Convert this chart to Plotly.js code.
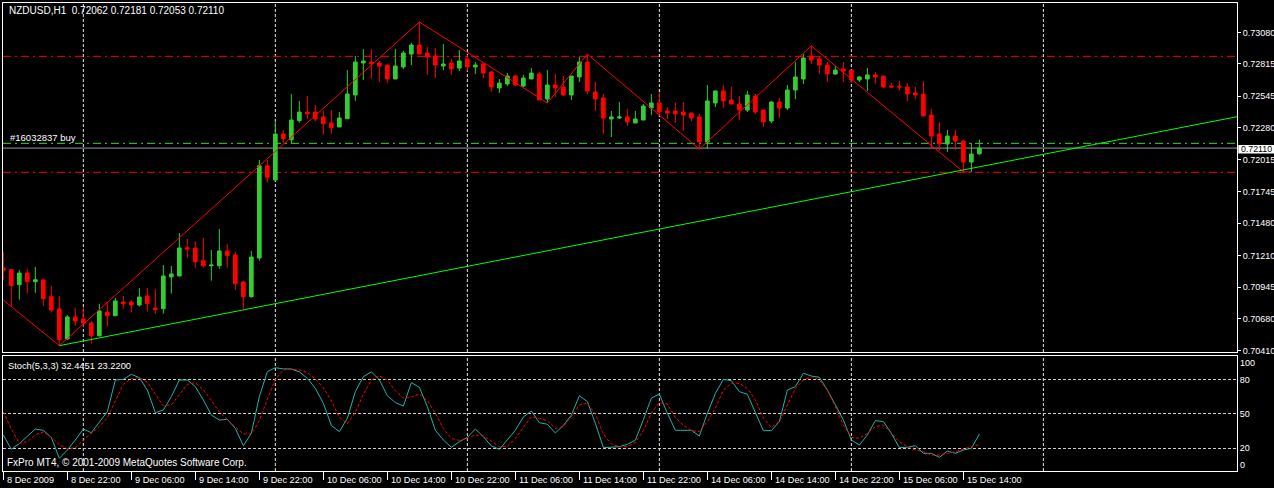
<!DOCTYPE html>
<html>
<head>
<meta charset="utf-8">
<script src="https://cdn.plot.ly/plotly-3.0.1.min.js"></script>
<style>
html,body{margin:0;padding:0;background:#000;}
#chart{width:1274px;height:488px;}
</style>
</head>
<body>
<div id="chart"></div>
<script>
// ---------- DATA (NZDUSD H1, bars from 8 Dec 14:00 to 15 Dec 16:00) ----------
// bar position: 0 = 9 Dec 2009 00:00 (weekend hours skipped, as in MT4)
const firstBar = -10;

const open = [
0.71105,0.71091,0.70965,0.71063,0.70990,0.71005,0.70865,0.70762,0.70510,0.70695,
0.70678,0.70644,0.70538,0.70736,0.70705,0.70820,0.70820,0.70795,0.70871,0.70770,
0.70764,0.71030,0.71038,0.71275,0.71273,0.71166,0.71124,0.71124,0.71248,0.71214,
0.70988,0.70865,0.71189,0.71962,0.71843,0.72228,0.72180,0.72340,0.72412,0.72412,
0.72371,0.72320,0.72287,0.72356,0.72555,0.72823,0.72831,0.72823,0.72806,0.72689,
0.72790,0.72898,0.72974,0.72907,0.72882,0.72798,0.72823,0.72781,0.72857,0.72790,
0.72815,0.72748,0.72614,0.72647,0.72714,0.72630,0.72689,0.72731,0.72521,0.72639,
0.72622,0.72555,0.72706,0.72831,0.72580,0.72530,0.72354,0.72362,0.72371,0.72320,
0.72345,0.72446,0.72488,0.72421,0.72421,0.72412,0.72404,0.72371,0.72161,0.72488,
0.72589,0.72513,0.72479,0.72429,0.72546,0.72429,0.72337,0.72496,0.72446,0.72597,
0.72689,0.72882,0.72857,0.72806,0.72731,0.72773,0.72764,0.72681,0.72689,0.72723,
0.72714,0.72630,0.72630,0.72622,0.72572,0.72563,0.72387,0.72228,0.72144,0.72211,
0.72169,0.71993,0.72062];

const high = [
0.71242,0.71097,0.71088,0.71097,0.71114,0.71013,0.70957,0.70871,0.70711,0.70770,
0.70778,0.70661,0.70804,0.70820,0.70854,0.70871,0.70837,0.70938,0.70938,0.70929,
0.71130,0.71122,0.71398,0.71348,0.71326,0.71357,0.71256,0.71432,0.71306,0.71239,
0.70996,0.71248,0.72010,0.72010,0.72337,0.72262,0.72563,0.72505,0.72547,0.72471,
0.72421,0.72429,0.72412,0.72764,0.72882,0.72940,0.72940,0.72840,0.72806,0.72940,
0.72924,0.72991,0.73167,0.72957,0.72949,0.72982,0.72857,0.72932,0.72890,0.72831,
0.72831,0.72756,0.72689,0.72739,0.72723,0.72723,0.72781,0.72748,0.72764,0.72731,
0.72714,0.72714,0.72873,0.72898,0.72664,0.72563,0.72421,0.72496,0.72438,0.72421,
0.72479,0.72563,0.72580,0.72454,0.72488,0.72496,0.72404,0.72396,0.72639,0.72589,
0.72639,0.72622,0.72546,0.72589,0.72563,0.72429,0.72505,0.72530,0.72639,0.72831,
0.72898,0.72966,0.72882,0.72831,0.72798,0.72831,0.72764,0.72714,0.72781,0.72748,
0.72714,0.72655,0.72672,0.72655,0.72622,0.72672,0.72438,0.72329,0.72262,0.72262,
0.72178,0.72153,0.72181];

const low = [
0.71005,0.70781,0.70840,0.70893,0.70898,0.70789,0.70731,0.70454,0.70502,0.70622,
0.70613,0.70471,0.70529,0.70613,0.70705,0.70764,0.70731,0.70781,0.70739,0.70722,
0.70722,0.70890,0.71038,0.71189,0.71108,0.71108,0.70999,0.71099,0.71108,0.70923,
0.70762,0.70856,0.71166,0.71820,0.71834,0.72150,0.72150,0.72323,0.72356,0.72337,
0.72223,0.72231,0.72287,0.72356,0.72507,0.72681,0.72689,0.72664,0.72655,0.72689,
0.72773,0.72806,0.72898,0.72723,0.72697,0.72764,0.72723,0.72756,0.72756,0.72731,
0.72697,0.72580,0.72572,0.72630,0.72630,0.72622,0.72689,0.72513,0.72488,0.72538,
0.72546,0.72513,0.72664,0.72563,0.72421,0.72228,0.72203,0.72354,0.72295,0.72320,
0.72345,0.72387,0.72387,0.72354,0.72320,0.72253,0.72337,0.72102,0.72102,0.72454,
0.72446,0.72479,0.72345,0.72412,0.72396,0.72287,0.72320,0.72362,0.72429,0.72521,
0.72647,0.72815,0.72731,0.72664,0.72723,0.72664,0.72655,0.72664,0.72589,0.72647,
0.72614,0.72614,0.72589,0.72505,0.72521,0.72379,0.72102,0.72086,0.72077,0.72094,
0.71910,0.71910,0.72053];

const close = [
0.71083,0.70957,0.71063,0.70990,0.71007,0.70848,0.70753,0.70504,0.70695,0.70661,
0.70644,0.70538,0.70745,0.70705,0.70829,0.70806,0.70795,0.70862,0.70806,0.70756,
0.71038,0.71055,0.71273,0.71264,0.71158,0.71124,0.71130,0.71248,0.71208,0.70974,
0.70865,0.71197,0.71962,0.71865,0.72228,0.72189,0.72345,0.72412,0.72398,0.72354,
0.72314,0.72281,0.72362,0.72563,0.72831,0.72840,0.72817,0.72798,0.72689,0.72798,
0.72907,0.72974,0.72898,0.72873,0.72806,0.72815,0.72773,0.72840,0.72790,0.72806,
0.72739,0.72622,0.72655,0.72714,0.72639,0.72697,0.72739,0.72513,0.72639,0.72614,
0.72555,0.72714,0.72831,0.72589,0.72521,0.72362,0.72371,0.72371,0.72329,0.72354,
0.72463,0.72488,0.72412,0.72404,0.72396,0.72387,0.72362,0.72161,0.72505,0.72589,
0.72505,0.72479,0.72429,0.72555,0.72412,0.72329,0.72496,0.72446,0.72597,0.72706,
0.72865,0.72848,0.72806,0.72731,0.72764,0.72756,0.72681,0.72706,0.72723,0.72706,
0.72622,0.72622,0.72622,0.72563,0.72555,0.72379,0.72211,0.72144,0.72211,0.72169,
0.71993,0.72060,0.72110];

// Stochastic(5,3,3)
const stochMain = [
31.6,19,24,30,36.8,35.7,29.5,11.1,18.4,27.2,
36.8,33.6,43.3,52,79.8,80.4,84.8,81.9,71,51.2,
53.5,65.2,79.8,79.8,74,62.3,49.1,44.7,45.3,37.4,
22.2,33,65.2,87.1,90.6,89.5,89.5,87,81.3,72.5,
59.4,40,34.5,46.2,69.6,82.7,87,80,66,60,
57,77.5,73.4,56.4,35.7,27.2,20.8,25.7,29.5,36.8,
30.1,22,19,27.2,35.7,47.4,52.6,42.4,41,33.3,
40,49,66,60.8,41.8,20.5,20.8,21.3,23.4,27,
45,64,67.5,50.6,35.7,35.7,35.7,30.7,50.6,68.1,
80.4,79.2,69.6,67.3,50.6,35.4,35.4,43.3,71,74,
85.7,83.3,82.2,71,58,44.7,27.2,22.8,31.6,44.2,
43.3,33,20.5,20.8,22.2,15.5,15.5,12,17.5,15.5,
18.4,19.9,32.4451];

const stochSignal = [
52,37,24.3,25.8,31.8,34.2,29.8,23,19.6,20.4,
27,32.7,39,46.8,61.7,76,81,81.9,77.9,67.5,
57,58,66.5,76,77.4,71.3,62,51.8,45,38.8,
32.5,32.7,44,63,80.5,88.5,89.6,88.6,86.4,80.7,
73,61.5,47.3,41.5,51.3,67.4,79.8,83.5,79.6,70.3,
64,64.8,67.5,61.9,50.6,37.3,28.6,26.8,28.7,31.6,
30.8,26.1,21.3,21.8,28.2,38.4,47.5,46.1,44.1,37.4,
38.9,47.6,58,59.4,49.9,32.4,23.6,21.3,21.4,25,
35.3,50.8,59.9,58.8,46.9,40.2,35.4,34.5,43.3,55,
71,76.9,76.9,72.5,62.3,46.2,38.3,43.3,58,72.5,
79.8,82.7,79.8,71,56.4,40.4,29.5,28.7,33,38.9,
40.4,33,25.7,21.3,18.4,16.9,14,14,15.5,16.9,
19.3,21.3,23.22];

// ZigZag pivots (bar position, price)
const zigzagBar   = [-10, -3, 42, 58, 63, 77, 91, 110, 111];
const zigzagPrice = [0.70837, 0.70454, 0.73167, 0.72488, 0.72898, 0.72102, 0.72966, 0.71910, 0.71910];

// trend line (ray to the right edge)
const trendBar   = [-3, 144.2];
const trendPrice = [0.70454, 0.72373];

// horizontal levels
const resistanceLevels = [0.72879, 0.71907];
const orderPrice = 0.72150;
const orderLabel = '#16032837 buy';
const bidPrice = 0.72110;

// axis ticks
const priceTicks = [0.70410,0.70680,0.70945,0.71210,0.71480,0.71745,0.72015,0.72280,0.72545,0.72815,0.73080];
const stochLevels = [20, 50, 80];
const timeTickBar = [-10,-2,6,14,22,30,38,46,54,62,70,78,86,94,102,110];
const timeTickText = ['8 Dec 2009','8 Dec 22:00','9 Dec 06:00','9 Dec 14:00','9 Dec 22:00','10 Dec 06:00',
  '10 Dec 14:00','10 Dec 22:00','11 Dec 06:00','11 Dec 14:00','11 Dec 22:00','14 Dec 06:00',
  '14 Dec 14:00','14 Dec 22:00','15 Dec 06:00','15 Dec 14:00'];
const daySeparatorBar = [0, 24, 48, 72, 96, 120];

// ---------- CHART ----------
const FONT = "'Liberation Sans', Arial, sans-serif";
const barX = open.map((_, i) => i + firstBar);
const n = open.length - 1;
const XR = [-10.04, 144.2];
const GREEN = '#32cd32', RED = '#ff0000';

const traces = [
  {type:'candlestick', x:barX, open:open, high:high, low:low, close:close,
   xaxis:'x', yaxis:'y', hoverinfo:'skip', whiskerwidth:0,
   increasing:{line:{color:GREEN, width:1}, fillcolor:GREEN},
   decreasing:{line:{color:RED, width:1}, fillcolor:RED}},
  {type:'scatter', mode:'lines', x:zigzagBar, y:zigzagPrice, xaxis:'x', yaxis:'y',
   line:{color:RED, width:1}, hoverinfo:'skip'},
  {type:'scatter', mode:'lines', x:trendBar, y:trendPrice, xaxis:'x', yaxis:'y',
   line:{color:'#00ff00', width:1}, hoverinfo:'skip'},
  {type:'scatter', mode:'lines', x:barX, y:stochMain, xaxis:'x2', yaxis:'y2',
   line:{color:'#20b2aa', width:1}, hoverinfo:'skip'},
  {type:'scatter', mode:'lines', x:barX, y:stochSignal, xaxis:'x2', yaxis:'y2',
   line:{color:RED, width:1, dash:'3px,2px'}, hoverinfo:'skip'}
];

// geometry helpers (plot area spans y 3..471 px)
const TOP = 3, BOT = 471, H = BOT - TOP;
const py = p => (BOT - p) / H;
const mainDomain = [py(352), 1];
const stochDomain = [0, py(355.5)];

const shapes = [];
daySeparatorBar.forEach(b => {
  shapes.push({type:'line', xref:'x', yref:'paper', x0:b, x1:b, y0:mainDomain[0], y1:1,
    line:{color:'#e8e8e8', width:1, dash:'3px,2px'}, layer:'below'});
  shapes.push({type:'line', xref:'x2', yref:'paper', x0:b, x1:b, y0:0, y1:stochDomain[1],
    line:{color:'#e8e8e8', width:1, dash:'3px,2px'}, layer:'below'});
});
resistanceLevels.forEach(v => shapes.push({type:'line', xref:'paper', yref:'y', x0:0, x1:1, y0:v, y1:v,
  line:{color:RED, width:1, dash:'8px,4px,2px,4px'}, layer:'below'}));
shapes.push({type:'line', xref:'paper', yref:'y', x0:0, x1:1, y0:orderPrice, y1:orderPrice,
  line:{color:'#33dd33', width:1, dash:'8px,4px,2px,4px'}, layer:'below'});
shapes.push({type:'line', xref:'paper', yref:'y', x0:0, x1:1, y0:bidPrice, y1:bidPrice,
  line:{color:'#8c9aa8', width:1}, layer:'below'});
// current price box on the price scale
shapes.push({type:'rect', xref:'paper', yref:'paper', x0:(1238.3-3)/1234, x1:(1274-3)/1234,
  y0:py(153.5), y1:py(145), fillcolor:'#ffffff', line:{width:0}, layer:'above'});

const txt = (size) => ({family:FONT, size:size, color:'#ffffff'});
const annotations = [
  {xref:'paper', yref:'paper', x:0.003, y:py(10.5), xanchor:'left', yanchor:'middle', showarrow:false,
   text:'NZDUSD,H1\u00a0\u00a0' + [open[n],high[n],low[n],close[n]].map(v=>v.toFixed(5)).join(' '),
   font:txt(10)},
  {xref:'paper', yref:'paper', x:0.004, y:py(137.3), xanchor:'left', yanchor:'middle', showarrow:false,
   text:orderLabel, font:txt(9.5)},
  {xref:'paper', yref:'paper', x:0.0028, y:py(366.3), xanchor:'left', yanchor:'middle', showarrow:false,
   text:'Stoch(5,3,3) ' + stochMain[n].toFixed(4) + ' ' + stochSignal[n].toFixed(4), font:txt(9.3)},
  {xref:'paper', yref:'paper', x:0.0019, y:py(462.7), xanchor:'left', yanchor:'middle', showarrow:false,
   text:'FxPro MT4, \u00a9 2001-2009 MetaQuotes Software Corp.', font:txt(10)},
  {xref:'paper', yref:'paper', x:(1256.2-3)/1234, y:py(149.3), xanchor:'center', yanchor:'middle', showarrow:false,
   borderpad:0, text:bidPrice.toFixed(5), font:{family:FONT, size:8.8, color:'#000000'}},
  {xref:'paper', yref:'paper', x:1, xshift:1, y:py(362.7), xanchor:'left', yanchor:'middle', showarrow:false,
   text:'100', font:txt(9)},
  {xref:'paper', yref:'paper', x:1, xshift:1, y:py(465), xanchor:'left', yanchor:'middle', showarrow:false,
   text:'0', font:txt(9)}
];
timeTickBar.forEach((b, i) => annotations.push({xref:'x2', yref:'paper', x:b, xshift:2, y:py(480.5),
  xanchor:'left', yanchor:'middle', showarrow:false, text:timeTickText[i], font:txt(9.2)}));

const axisCommon = {showgrid:false, zeroline:false, showline:true, mirror:true, linecolor:'#ffffff', linewidth:1, fixedrange:true};

const layout = {
  width:1274, height:488,
  paper_bgcolor:'#000000', plot_bgcolor:'#000000',
  margin:{l:3, r:37, t:3, b:17, pad:0},
  showlegend:false,
  font:{family:FONT, size:9, color:'#ffffff'},
  boxgap:0.35,
  xaxis:Object.assign({}, axisCommon, {domain:[0,1], range:XR, anchor:'y', showticklabels:false, ticks:'',
    rangeslider:{visible:false}}),
  yaxis:Object.assign({}, axisCommon, {domain:mainDomain, range:[0.70401,0.73326], side:'right', anchor:'x',
    tickvals:priceTicks, ticktext:priceTicks.map(v=>v.toFixed(5)), ticks:'outside', ticklen:3, tickcolor:'#ffffff',
    tickfont:{family:FONT, size:9, color:'#ffffff'}}),
  xaxis2:Object.assign({}, axisCommon, {domain:[0,1], range:XR, anchor:'y2', tickvals:timeTickBar,
    showticklabels:false, ticks:'outside', ticklen:8, tickcolor:'#ffffff'}),
  yaxis2:Object.assign({}, axisCommon, {domain:stochDomain, range:[0,101.3], side:'right', anchor:'x2',
    tickvals:stochLevels, ticktext:stochLevels.map(String), ticks:'',
    showgrid:true, gridcolor:'#d0d0d0', griddash:'3px,2px', gridwidth:1,
    tickfont:{family:FONT, size:9, color:'#ffffff'}}),
  shapes:shapes,
  annotations:annotations
};

Plotly.newPlot('chart', traces, layout, {staticPlot:true, displayModeBar:false});
</script>
</body>
</html>
